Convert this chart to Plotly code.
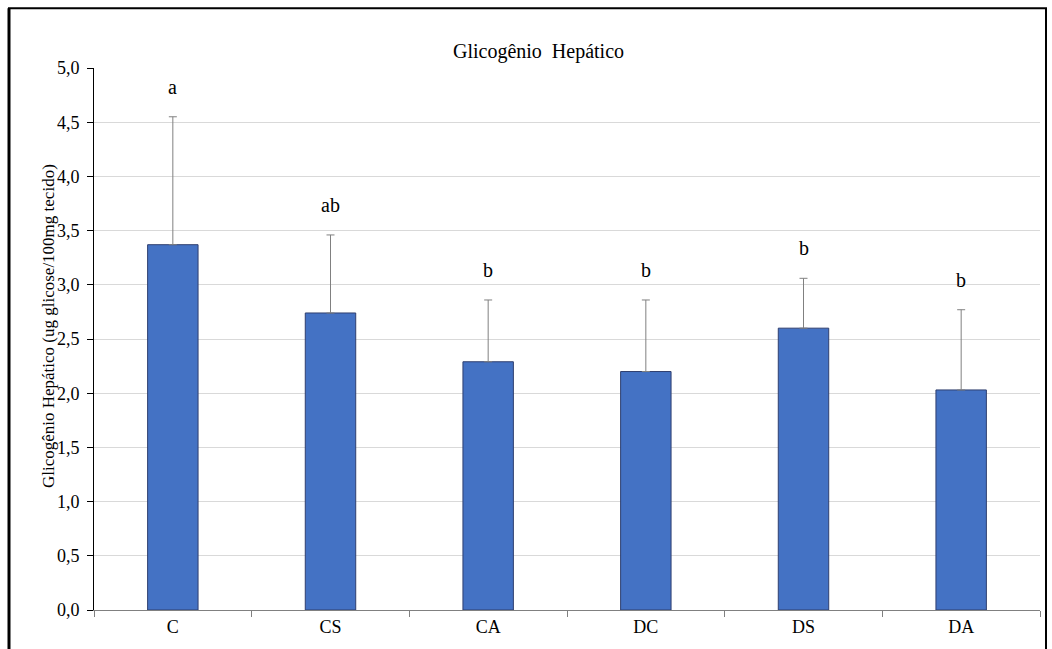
import plotly.graph_objects as go

# Liver glycogen per group (mean and upward SD)
groups = ["C", "CS", "CA", "DC", "DS", "DA"]
means = [3.37, 2.74, 2.29, 2.20, 2.60, 2.03]
sd = [1.18, 0.72, 0.57, 0.66, 0.46, 0.74]
letters = ["a", "ab", "b", "b", "b", "b"]

W, H = 1052, 649
ML, MR, MT, MB = 94, 12, 68, 36
pw, ph = W - ML - MR, H - MT - MB

def px(x):
    return (x - ML) / pw

def py(y):
    return (H - MB - y) / ph

serif = "Times New Roman, Liberation Serif, DejaVu Serif, serif"

fig = go.Figure()
fig.add_trace(go.Bar(
    x=groups, y=means, width=0.32,
    marker=dict(color="#4472c4", line=dict(color="#2f3f6f", width=1)),
    error_y=dict(type="data", array=sd, arrayminus=[0] * len(sd), symmetric=False,
                 color="#808080", thickness=1, width=4),
    showlegend=False,
))

# significance letters above error bars
for g, m, s, t in zip(groups, means, sd, letters):
    fig.add_annotation(x=g, y=m + s, text=t, showarrow=False, yshift=30,
                       font=dict(family=serif, size=20, color="#000"))

fig.add_annotation(xref="paper", yref="paper", x=px(538), y=py(38), text="Glicogênio  Hepático",
                   showarrow=False, font=dict(family=serif, size=20, color="#000"))
fig.add_annotation(xref="paper", yref="paper", x=px(37), y=py(328), textangle=-90,
                   text="Glicogênio Hepático (ug glicose/100mg tecido)", showarrow=False,
                   font=dict(family=serif, size=17, color="#000"))

# outer frame
fig.add_shape(type="rect", xref="paper", yref="paper", x0=px(9), x1=px(1046), y0=py(670), y1=py(8),
              line=dict(color="#000", width=2), layer="above")
fig.add_shape(type="line", xref="paper", yref="paper", x0=px(9), x1=px(9), y0=py(670), y1=py(8),
              line=dict(color="#000", width=3), layer="above")

fig.update_layout(
    width=W, height=H, margin=dict(l=ML, r=MR, t=MT, b=MB),
    paper_bgcolor="white", plot_bgcolor="white", separators=",.",
    font=dict(family=serif, size=18, color="#000"),
    bargap=0.68,
)
fig.update_yaxes(range=[0, 5], dtick=0.5, tickformat=".1f", showgrid=True, gridcolor="#d9d9d9",
                 gridwidth=1, showline=True, linecolor="#000", linewidth=1, ticks="outside",
                 ticklen=6, tickcolor="#000", zeroline=False, ticklabelstandoff=4,
                 tickfont=dict(family=serif, size=18))
fig.update_xaxes(showline=True, linecolor="#808080", linewidth=1, ticks="outside", ticklen=6,
                 tickcolor="#808080", tickson="boundaries", showgrid=False,
                 tickfont=dict(family=serif, size=18))

fig.write_html("out.html")
